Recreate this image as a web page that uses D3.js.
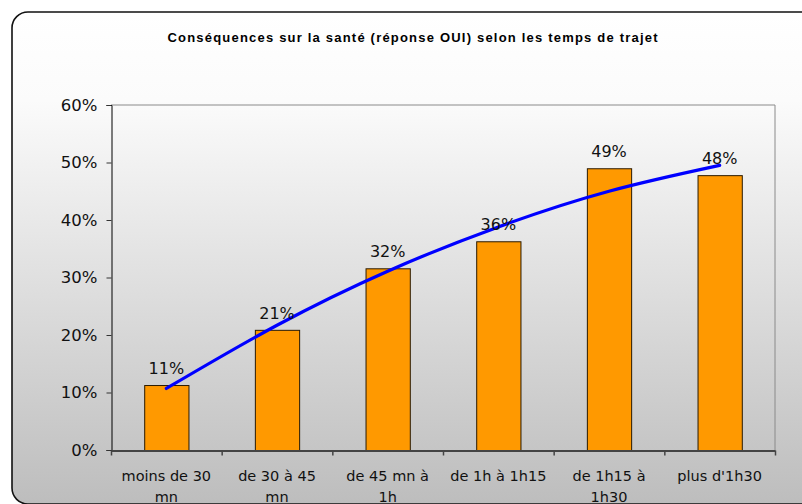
<!DOCTYPE html>
<html>
<head>
<meta charset="utf-8">
<script src="https://cdn.jsdelivr.net/npm/d3@7"></script>
<style>
  html, body { margin: 0; padding: 0; background: #ffffff; }
  svg { display: block; }
</style>
</head>
<body>
<svg id="chart" width="802" height="504"></svg>
<script>
// ---- data ----
const title = "Conséquences sur la santé (réponse OUI) selon les temps de trajet";
const categories = ["moins de 30\nmn", "de 30 à 45\nmn", "de 45 mn à\n1h", "de 1h à 1h15", "de 1h15 à\n1h30", "plus d'1h30"];
const values = [0.113, 0.209, 0.316, 0.363, 0.490, 0.478];
const trendValues = [0.107, 0.217, 0.311, 0.388, 0.450, 0.495];
const yTicks = [0, 0.1, 0.2, 0.3, 0.4, 0.5, 0.6];

// ---- layout ----
const plot = { left: 111, right: 775, top: 105, bottom: 450 };

const svg = d3.select("#chart");
const defs = svg.append("defs");
const grad = defs.append("linearGradient").attr("id", "bg").attr("x1", 0).attr("y1", 0).attr("x2", 0).attr("y2", 1);
grad.append("stop").attr("offset", "0%").attr("stop-color", "#ffffff");
grad.append("stop").attr("offset", "18%").attr("stop-color", "#fbfbfb");
grad.append("stop").attr("offset", "100%").attr("stop-color", "#bdbdbd");

// chart frame
svg.append("rect")
  .attr("x", 12).attr("y", 12).attr("width", 806).attr("height", 492)
  .attr("rx", 16).attr("ry", 16)
  .attr("fill", "url(#bg)").attr("stroke", "#111").attr("stroke-width", 1.6);

// title
svg.append("text")
  .attr("x", 412.5).attr("y", 42)
  .attr("text-anchor", "middle")
  .attr("font-family", "Liberation Sans, Arial, sans-serif")
  .attr("font-weight", "bold").attr("font-size", 13)
  .attr("textLength", 490).attr("lengthAdjust", "spacing")
  .attr("fill", "#000")
  .text(title);

// scales
const x = d3.scaleBand().domain(categories).range([plot.left, plot.right]).paddingInner(0.6).paddingOuter(0.3);
const xEdge = d3.scaleLinear().domain([0, categories.length]).range([plot.left, plot.right]);
const y = d3.scaleLinear().domain([0, 0.6]).range([plot.bottom, plot.top]);

// plot area border (top and right)
svg.append("path")
  .attr("d", d3.line()([[plot.left, plot.top], [plot.right, plot.top], [plot.right, plot.bottom]]))
  .attr("fill", "none").attr("stroke", "#8a8a8a").attr("stroke-width", 1);

// bars
svg.append("g").selectAll("rect").data(values).join("rect")
  .attr("x", (d, i) => x(categories[i]) + 0.5)
  .attr("y", d => y(d) + 0.5)
  .attr("width", x.bandwidth())
  .attr("height", d => y(0) - y(d))
  .attr("fill", "#ff9900").attr("stroke", "#2a1a00").attr("stroke-width", 1);

// y axis
const yAxis = svg.append("g").attr("transform", `translate(${plot.left + 0.5},0)`)
  .call(d3.axisLeft(y).tickValues(yTicks).tickFormat(d3.format(".0%")).tickSize(5).tickPadding(9));
yAxis.select(".domain").attr("stroke", "#000");
yAxis.selectAll(".tick line").attr("stroke", "#333");
yAxis.selectAll("text").attr("font-family", "DejaVu Sans, Verdana, sans-serif").attr("font-size", 16.5).attr("fill", "#111");

// x axis (ticks at category boundaries)
const xAxis = svg.append("g").attr("transform", `translate(0,${plot.bottom + 0.5})`)
  .call(d3.axisBottom(xEdge).tickValues(d3.range(categories.length + 1)).tickFormat("").tickSize(5).tickSizeOuter(0));
xAxis.select(".domain").attr("stroke", "#444").attr("stroke-width", 2);
xAxis.selectAll(".tick line").attr("stroke", "#444").attr("stroke-width", 1.5);

// category labels
const labels = svg.append("g").selectAll("text").data(categories).join("text")
  .attr("x", d => x(d) + x.bandwidth() / 2)
  .attr("y", 481)
  .attr("text-anchor", "middle")
  .attr("font-family", "DejaVu Sans, Verdana, sans-serif")
  .attr("font-size", 14.5).attr("fill", "#111");
labels.each(function(d) {
  const t = d3.select(this);
  d.split("\n").forEach((line, i) => {
    t.append("tspan").attr("x", x(d) + x.bandwidth() / 2).attr("dy", i === 0 ? 0 : 21).text(line);
  });
});

// trend line
svg.append("path")
  .datum(trendValues)
  .attr("d", d3.line()
    .x((d, i) => x(categories[i]) + x.bandwidth() / 2)
    .y(d => y(d))
    .curve(d3.curveNatural))
  .attr("fill", "none").attr("stroke", "#0000ff").attr("stroke-width", 3.2).attr("stroke-linecap", "round");

// data labels
svg.append("g").selectAll("text").data(values).join("text")
  .attr("x", (d, i) => x(categories[i]) + x.bandwidth() / 2)
  .attr("y", d => y(d) - 11)
  .attr("text-anchor", "middle")
  .attr("font-family", "DejaVu Sans, Verdana, sans-serif")
  .attr("font-size", 16).attr("fill", "#111")
  .text(d => d3.format(".0%")(d));
</script>
</body>
</html>
